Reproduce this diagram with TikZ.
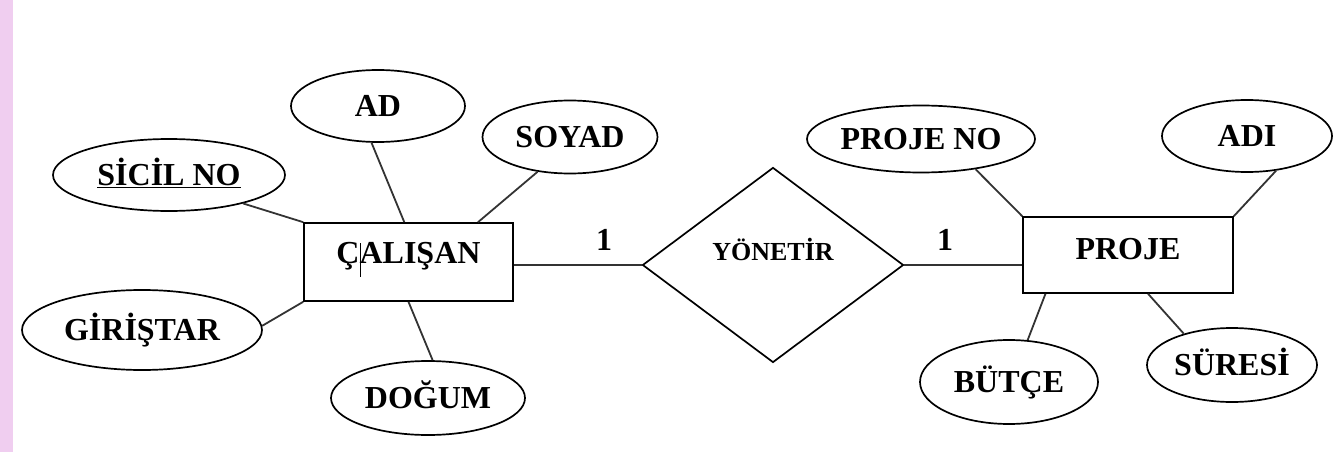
\documentclass[tikz,border=0pt]{standalone}
\usepackage{fontspec}
\setmainfont{Liberation Serif}
\usetikzlibrary{shapes.geometric,calc}
\definecolor{stripcol}{RGB}{240,206,240}
\begin{document}
\begin{tikzpicture}[x=1pt,y=-1pt,
  txt/.style={font=\fontsize{32}{32}\selectfont\bfseries,text height=21.2pt,text depth=0pt},
  attr/.style={ellipse,draw=black,line width=1.7pt,inner sep=0pt,txt},
  ent/.style={rectangle,draw=black,line width=1.7pt,inner sep=0pt},
  relshape/.style={diamond,draw=black,line width=1.7pt,inner sep=0pt},
  lbl/.style={txt,inner sep=0pt},
  link/.style={line width=1.8pt,draw=black!80}]
\fill[stripcol] (0,0) rectangle (13,452);
\useasboundingbox (0,0) rectangle (1333,452);

% entity CALISAN and its attributes
\node[ent,minimum width=209pt,minimum height=78pt,
  label={[lbl,name=calt,yshift=9pt]center:Ç\rlap{\rule[-13pt]{1pt}{34pt}}ALIŞAN}] (cal) at (408.5,262) {};
\node[attr,minimum width=174pt,minimum height=72pt] (ad) at (378,106) {AD};
\node[attr,minimum width=232pt,minimum height=72pt] (sicil) at (169,175) {\underline{SİCİL NO}};
\node[attr,minimum width=240pt,minimum height=80pt] (giris) at (142,330) {GİRİŞTAR};
\node[attr,minimum width=194pt,minimum height=74pt] (dogum) at (428,398) {DOĞUM};
\node[attr,minimum width=175pt,minimum height=73pt] (soyad) at (570,137) {SOYAD};

% relationship
\node[relshape,minimum width=261pt,minimum height=195pt,
  label={[lbl,font=\fontsize{26}{26}\selectfont\bfseries,text height=17.2pt,name=relt,yshift=13pt]center:YÖNETİR}] (rel) at (773,265) {};
\node[lbl] (c1) at (604,240) {1};
\node[lbl] (c2) at (945,240) {1};

% entity PROJE and its attributes
\node[ent,minimum width=210pt,minimum height=76pt,
  label={[lbl,name=projet,yshift=6pt]center:PROJE}] (proje) at (1128,255) {};
\node[attr,minimum width=228pt,minimum height=67pt] (projeno) at (921,139) {PROJE NO};
\node[attr,minimum width=170pt,minimum height=72pt] (adi) at (1247,136) {ADI};
\node[attr,minimum width=178pt,minimum height=84pt] (butce) at (1009,382) {BÜTÇE};
\node[attr,minimum width=170pt,minimum height=74pt] (suresi) at (1232,365) {SÜRESİ};

% connectors
\draw[link] (sicil.-21) -- (cal.north west);
\draw[link] (ad.-100) -- ($(cal.north west)!0.48!(cal.north east)$);
\draw[link] (soyad.-133) -- ($(cal.north west)!0.83!(cal.north east)$);
\draw[link] (giris.2) -- (cal.south west);
\draw[link] (dogum.83) -- (cal.south);
\draw[link] (cal.east |- rel.west) -- (rel.west);
\draw[link] (rel.east) -- (rel.east -| proje.west);
\draw[link] (projeno.-29) -- (proje.north west);
\draw[link] (adi.-50) -- (proje.north east);
\draw[link] (butce.66) -- ($(proje.south west)!0.11!(proje.south east)$);
\draw[link] (suresi.147) -- ($(proje.south west)!0.595!(proje.south east)$);
\end{tikzpicture}
\end{document}
